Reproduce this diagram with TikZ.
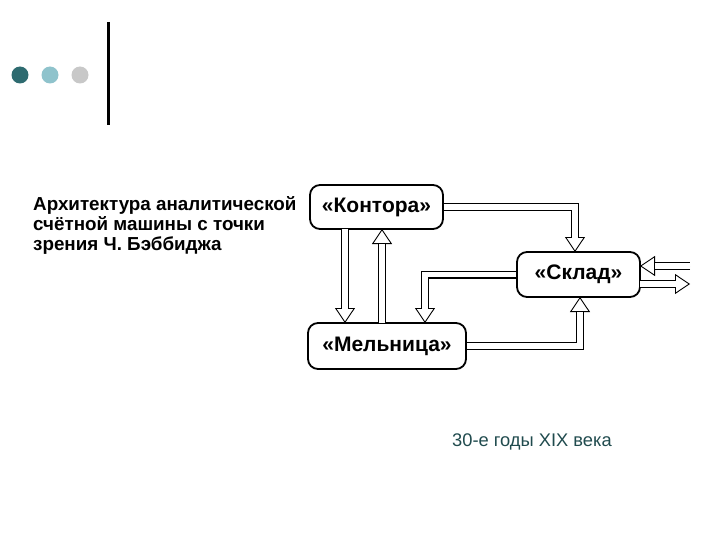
\documentclass[tikz,border=0pt]{standalone}
\usepackage{fontspec}
\setmainfont{Liberation Sans}
\usetikzlibrary{arrows.meta}
\definecolor{dteal}{HTML}{2E6B70}
\definecolor{lteal}{HTML}{8FC3CC}
\definecolor{lgray}{HTML}{C8C8C8}
\tikzset{
 box/.style={draw,line width=1.8pt,rounded corners=10pt,font=\bfseries\fontsize{21}{24}\selectfont,inner sep=0pt},
}
\newcommand{\dblarrow}[1]{%
 \draw[line width=0.9pt,-{Triangle[open,width=20pt,length=15pt,fill=white]}] #1;
 \draw[line width=8pt,shorten >=14pt] #1;
 \draw[white,line width=5.2pt,shorten >=14.5pt] #1;
}
\begin{document}
\begin{tikzpicture}[x=1pt,y=-1pt]
\useasboundingbox[fill=white] (0,0) rectangle (720,540);
\fill[dteal] (20,75) circle (8.5);
\fill[lteal] (50,75) circle (8.5);
\fill[lgray] (80,75) circle (8.5);
\draw[line width=3pt] (108,22) -- (108,125);
\node[anchor=north west,align=left,font=\bfseries\fontsize{18.8}{20}\selectfont,inner sep=0pt] (title) at (33,196) {Архитектура аналитической\\счётной машины с точки\\зрения Ч. Бэббиджа};
\node[box,minimum width=133pt,minimum height=44pt] (k) at (376.5,207) {«Контора»};
\node[box,minimum width=123pt,minimum height=45pt] (s) at (578.5,274.5) {«Склад»};
\node[box,minimum width=158pt,minimum height=46pt] (m) at (387,346) {«Мельница»};
\coordinate (in) at (690,266);
\coordinate (out) at (690,284);
\dblarrow{(k.east) -- (575,207) -- (575,252)}
\dblarrow{(345,229) -- (345,323)}
\dblarrow{(382,323) -- (382,229)}
\dblarrow{(s.west) -- (425,274.5) -- (425,323)}
\dblarrow{(m.east) -- (580,346) -- (580,297)}
\dblarrow{(in) -- (640,266)}
\dblarrow{(640,284) -- (out)}
\node[anchor=west,text=dteal!70!black,font=\fontsize{18.3}{20}\selectfont,inner sep=0pt] (cap) at (452,442) {30-е годы XIX века};
\end{tikzpicture}
\end{document}
